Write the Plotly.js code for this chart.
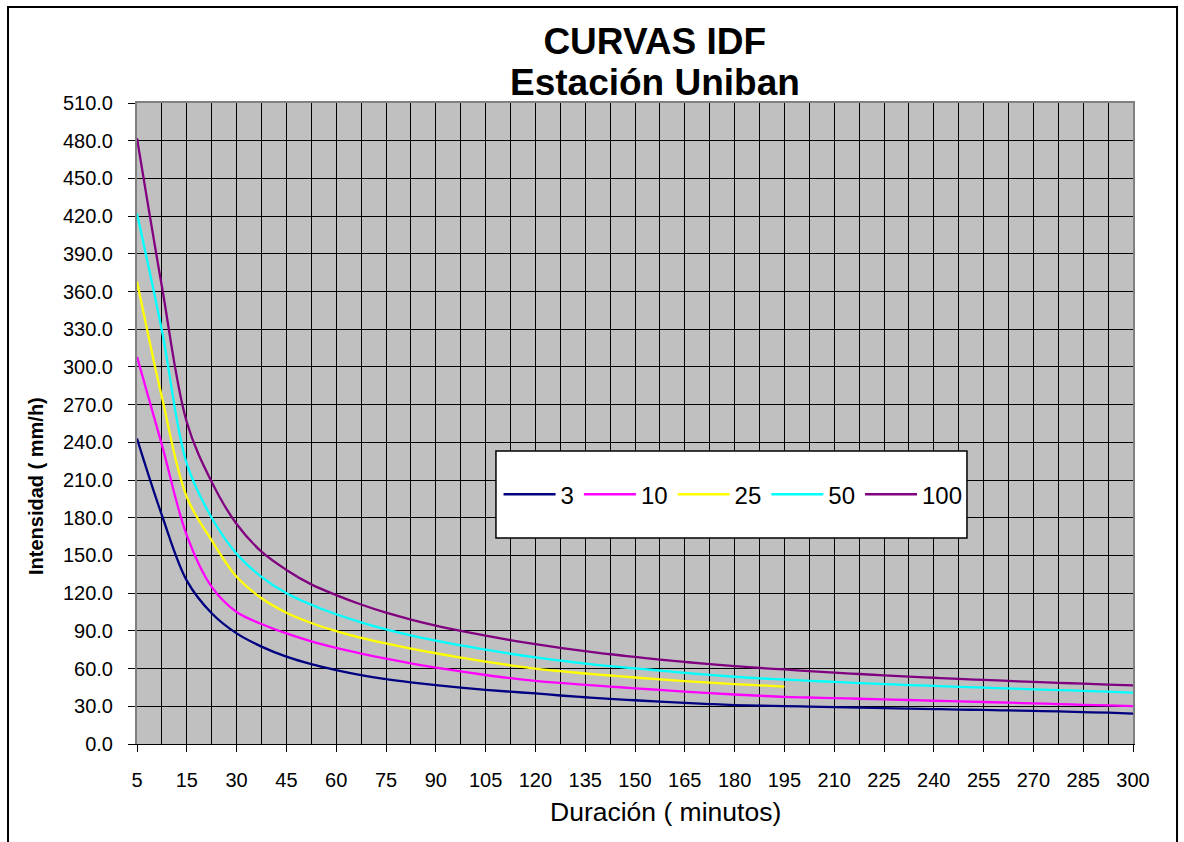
<!DOCTYPE html>
<html>
<head>
<meta charset="utf-8">
<script src="https://cdn.plot.ly/plotly-3.0.1.min.js"></script>
<style>
  html, body { margin: 0; padding: 0; background: #ffffff; }
  #chart { width: 1184px; height: 842px; }
</style>
</head>
<body>
<div id="chart"></div>
<script>
// Duration categories (minutes); only every second one is labelled on the axis
const durations = ['5','10','15','22.5','30','37.5','45','52.5','60','67.5','75','82.5','90','97.5','105','112.5','120','127.5','135','142.5','150','157.5','165','172.5','180','187.5','195','202.5','210','217.5','225','232.5','240','247.5','255','262.5','270','277.5','285','292.5','300'];
const tickLabels = ['5','15','30','45','60','75','90','105','120','135','150','165','180','195','210','225','240','255','270','285','300'];

// Return periods (years)
const seriesNames = ['3','10','25','50','100'];

// Intensity (mm/h)
const i3   = [243,182,130,104,88,77.5,69.5,63.5,58.8,54.8,51.6,49,46.8,44.8,43.1,41.6,40.2,38.6,37.2,35.9,34.8,33.7,32.7,31.8,31,30.5,30.2,29.8,29.4,29,28.6,28.2,27.8,27.4,27.1,26.7,26.3,25.9,25.4,24.9,24.2];
const i10  = [308,238,166,125,105,95.5,88,81.7,76.5,72,67.9,64.2,60.8,57.7,54.9,52.4,50.3,48.6,47.1,45.7,44.3,43,41.7,40.5,39.4,38.4,37.5,37,36.5,36,35.5,35,34.4,33.9,33.4,32.9,32.3,31.8,31.2,30.7,30.1];
const i25  = [368,276,196.5,162,133,116,104.5,96.3,89.8,84.5,80,75.9,72.2,68.8,65.6,62.6,59.9,57.9,56.1,54.5,52.9,51.4,50.1,48.8,47.7,46.7,45.7];
const i50  = [422,329,223,180,151.4,133,120,110.8,103.2,96.8,91.2,86.4,82.2,78.4,75,71.8,68.9,66.4,64,61.9,60.2,58.4,56.6,55,53.5,52.2,51.3,50.3,49.4,48.5,47.7,46.9,46.2,45.5,44.8,44.2,43.5,42.9,42.3,41.7,40.8];
const i100 = [482,364,256,208.5,175,153,138.5,127,118.5,111,104.5,99,94.2,90,86.2,82.6,79.4,76.5,73.9,71.4,69.3,67.2,65.3,63.5,61.9,60.5,59.3,58,56.8,55.7,54.6,53.6,52.7,51.8,51,50.2,49.4,48.7,48,47.3,46.6];

const seriesValues = [i3, i10, i25, i50, i100];
const seriesColors = ['#000080','#FF00FF','#FFFF00','#00FFFF','#800080'];

const traces = seriesValues.map((vals, k) => ({
  type: 'scatter',
  mode: 'lines',
  name: seriesNames[k],
  x: durations.slice(0, vals.length),
  y: vals,
  line: { color: seriesColors[k], width: 2.3, shape: 'spline', smoothing: 1 },
  hoverinfo: 'x+y+name'
}));

// empty helper trace so the overlay axis carrying the vertical grid is built
traces.push({
  type: 'scatter', mode: 'lines', x: [], y: [],
  xaxis: 'x2', yaxis: 'y', showlegend: false, hoverinfo: 'skip'
});

const FONT = 'Arial, "Liberation Sans", sans-serif';

const layout = {
  width: 1184,
  height: 842,
  margin: { l: 137, r: 51, t: 103, b: 98 },
  paper_bgcolor: '#ffffff',
  plot_bgcolor: '#C0C0C0',
  font: { family: FONT, color: '#000000' },
  title: {
    text: '<b>CURVAS IDF</b>',
    font: { family: FONT, size: 37, color: '#000000' },
    x: 0.553, xanchor: 'center',
    y: 1 - 41 / 842, yanchor: 'middle', yref: 'container'
  },
  showlegend: true,
  legend: {
    orientation: 'h',
    x: 0.363, xanchor: 'left',
    y: 0.389, yanchor: 'middle',
    bgcolor: 'rgba(0,0,0,0)',
    borderwidth: 0,
    font: { family: FONT, size: 24, color: '#000000' },
    itemwidth: 52,
    tracegroupgap: 0
  },
  xaxis: {
    type: 'category',
    categoryorder: 'array',
    categoryarray: durations,
    range: [0, durations.length - 1],
    tickmode: 'array',
    tickvals: tickLabels,
    ticktext: tickLabels,
    ticks: 'outside', ticklen: 7, tickwidth: 1, tickcolor: '#000000',
    ticklabelstandoff: 11,
    tickfont: { family: FONT, size: 20, color: '#000000' },
    showgrid: false,
    showline: true, linecolor: '#000000', linewidth: 1,
    zeroline: false
  },
  xaxis2: {
    overlaying: 'x',
    anchor: 'y',
    side: 'top',
    type: 'linear',
    range: [0, durations.length - 1],
    dtick: 1, tick0: 0,
    showgrid: true, gridcolor: '#000000', gridwidth: 1,
    showticklabels: false, ticks: '',
    showline: true, linecolor: '#808080', linewidth: 2,
    zeroline: false,
    fixedrange: true
  },
  yaxis: {
    range: [0, 510],
    dtick: 30, tick0: 0,
    tickformat: '.1f',
    ticks: 'outside', ticklen: 7, tickwidth: 1, tickcolor: '#000000',
    ticklabelstandoff: 11,
    tickfont: { family: FONT, size: 20, color: '#000000' },
    showgrid: true, gridcolor: '#000000', gridwidth: 1,
    showline: true, linecolor: '#808080', linewidth: 2, mirror: true,
    zeroline: false
  },
  annotations: [
    { text: '<b>Estación Uniban</b>', xref: 'paper', yref: 'paper',
      x: (655 - 137) / 996, y: (744 - 82) / 641, xanchor: 'center', yanchor: 'middle',
      showarrow: false, font: { family: FONT, size: 37, color: '#000000' } },
    { text: 'Duración ( minutos)', xref: 'paper', yref: 'paper',
      x: (665 - 137) / 996, y: (744 - 812) / 641, xanchor: 'center', yanchor: 'middle',
      showarrow: false, font: { family: FONT, size: 26.5, color: '#000000' } },
    { text: '<b>Intensidad ( mm/h)</b>', xref: 'paper', yref: 'paper', textangle: -90,
      x: (36 - 137) / 996, y: (744 - 486) / 641, xanchor: 'center', yanchor: 'middle',
      showarrow: false, font: { family: FONT, size: 20, color: '#000000' } }
  ],
  shapes: [
    { type: 'rect', xref: 'paper', yref: 'paper', layer: 'above',
      x0: 0.3604, x1: 0.8333, y0: 0.3214, y1: 0.4571,
      fillcolor: '#ffffff', line: { color: '#000000', width: 1.5 } },
    { type: 'rect', xref: 'paper', yref: 'paper', layer: 'below',
      x0: -0.1295, x1: 1.0442, y0: -0.17, y1: 1.1498,
      fillcolor: 'rgba(0,0,0,0)', line: { color: '#000000', width: 2 } }
  ]
};

Plotly.newPlot('chart', traces, layout, { displayModeBar: false, responsive: false });
</script>
</body>
</html>
